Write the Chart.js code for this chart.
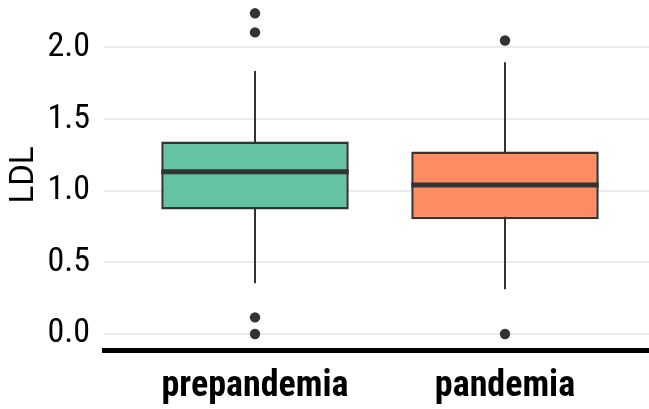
<!DOCTYPE html>
<html><head><meta charset="utf-8">
<style>html,body{margin:0;padding:0;background:#fff}#wrap{width:649px;height:409px}</style>
<script src="https://cdn.jsdelivr.net/npm/chart.js@4.4.1/dist/chart.umd.min.js"></script>
</head><body><div id="wrap"><canvas id="c" width="649" height="409"></canvas></div>
<script>
const categories = ['prepandemia', 'pandemia'];
const whiskerLow = [0.354, 0.312];
const q1 = [0.869, 0.801];
const median = [1.133, 1.040];
const q3 = [1.343, 1.273];
const whiskerHigh = [1.836, 1.897];
const outliers = [[2.238, 2.105, 0.116, 0.0], [2.048, 0.0]];
const yTicks = [0, 0.5, 1.0, 1.5, 2.0];
const yTitle = 'LDL';

const fills = ['#66c2a5', '#fc8d62'];
const ink = '#333333';
const FAMILY = "'Roboto Condensed', Roboto, sans-serif";
const halfBox = 0.375;

const datasets = [];
categories.forEach((c, i) => {
  datasets.push({
    type: 'line',
    data: [{x: i + 1, y: whiskerLow[i]}, {x: i + 1, y: whiskerHigh[i]}],
    borderColor: ink, borderWidth: 2, pointRadius: 0, fill: false, tension: 0,
    order: 5
  });
});
datasets.push({
  type: 'bar',
  data: categories.map((c, i) => ({x: i + 1, y: [q1[i], q3[i]]})),
  backgroundColor: fills, borderColor: ink, borderWidth: 2.5, borderSkipped: false,
  barPercentage: 0.75, categoryPercentage: 1, order: 3
});
categories.forEach((c, i) => {
  datasets.push({
    type: 'line',
    data: [{x: i + 1 - halfBox, y: median[i]}, {x: i + 1 + halfBox, y: median[i]}],
    borderColor: ink, borderWidth: 5, pointRadius: 0, fill: false, tension: 0,
    borderCapStyle: 'butt', order: 1
  });
});
datasets.push({
  type: 'scatter',
  data: outliers.flatMap((arr, i) => arr.map(v => ({x: i + 1, y: v}))),
  backgroundColor: ink, borderWidth: 0, pointRadius: 5.2, pointHoverRadius: 5.2,
  order: 0
});

new Chart(document.getElementById('c'), {
  type: 'bar',
  data: {datasets},
  options: {
    responsive: false, animation: false, devicePixelRatio: 1,
    layout: {padding: 0, autoPadding: false},
    plugins: {legend: {display: false}, tooltip: {enabled: false}},
    scales: {
      x: {
        type: 'linear', min: 0.396, max: 2.576, offset: false,
        afterBuildTicks: s => { s.ticks = categories.map((c, i) => ({value: i + 1})); },
        grid: {display: false, drawTicks: false, offset: false},
        border: {display: true, color: '#000', width: 5},
        ticks: {
          callback: v => categories[Math.round(v) - 1],
          font: {family: FAMILY, size: 36, weight: 'bold'}, color: '#000',
          padding: 15, maxRotation: 0, autoSkip: false
        },
        afterFit: s => { s.height = 59; s.paddingLeft = 0; s.paddingRight = 0; }
      },
      y: {
        type: 'linear', min: -0.112, max: 2.331,
        afterBuildTicks: s => { s.ticks = yTicks.map(v => ({value: v})); },
        grid: {color: '#ebebeb', lineWidth: 2, drawTicks: false},
        border: {display: false},
        ticks: {
          callback: v => Number(v).toFixed(1),
          font: {family: FAMILY, size: 34}, color: '#000', padding: 14
        },
        title: {display: true, text: yTitle, font: {family: 'Roboto, sans-serif', size: 33}, color: '#000', padding: {top: 5, bottom: 0}},
        afterFit: s => { s.width = 104; s.paddingTop = 0; s.paddingBottom = 0; }
      }
    }
  }
});
</script></body></html>
